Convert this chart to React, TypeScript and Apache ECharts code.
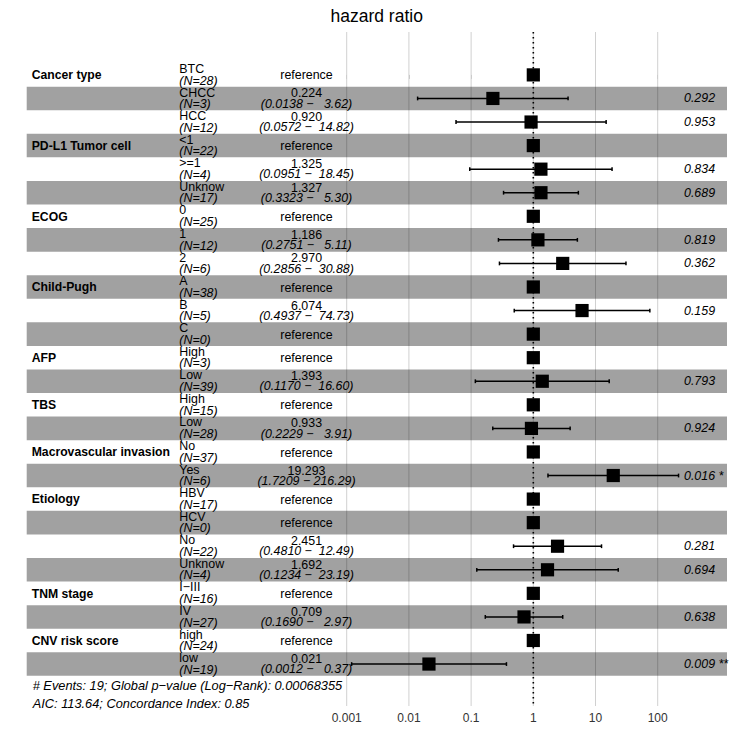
import React, { useEffect, useRef } from "react";
import * as echarts from "echarts";

// ---------------- data ----------------
const variables = [
  "Cancer type", "", "",
  "PD-L1 Tumor cell", "", "",
  "ECOG", "", "",
  "Child-Pugh", "", "",
  "AFP", "",
  "TBS", "",
  "Macrovascular invasion", "",
  "Etiology", "", "", "",
  "TNM stage", "",
  "CNV risk score", "",
];
const levels = [
  "BTC", "CHCC", "HCC",
  "<1", ">=1", "Unknow",
  "0", "1", "2",
  "A", "B", "C",
  "High", "Low",
  "High", "Low",
  "No", "Yes",
  "HBV", "HCV", "No", "Unknow",
  "I\u2212III", "IV",
  "high", "low",
];
const counts = [28, 3, 12, 22, 4, 17, 25, 12, 6, 38, 5, 0, 3, 39, 15, 28, 37, 6, 17, 0, 22, 4, 16, 27, 24, 19];
const hazardRatios: (number | null)[] = [
  null, 0.224, 0.92,
  null, 1.325, 1.327,
  null, 1.186, 2.97,
  null, 6.074, null,
  null, 1.393,
  null, 0.933,
  null, 19.293,
  null, null, 2.451, 1.692,
  null, 0.709,
  null, 0.021,
];
const ciLow: (number | null)[] = [
  null, 0.0138, 0.0572,
  null, 0.0951, 0.3323,
  null, 0.2751, 0.2856,
  null, 0.4937, null,
  null, 0.117,
  null, 0.2229,
  null, 1.7209,
  null, null, 0.481, 0.1234,
  null, 0.169,
  null, 0.0012,
];
const ciHigh: (number | null)[] = [
  null, 3.62, 14.82,
  null, 18.45, 5.3,
  null, 5.11, 30.88,
  null, 74.73, null,
  null, 16.6,
  null, 3.91,
  null, 216.29,
  null, null, 12.49, 23.19,
  null, 2.97,
  null, 0.37,
];
const pValues: (number | null)[] = [
  null, 0.292, 0.953,
  null, 0.834, 0.689,
  null, 0.819, 0.362,
  null, 0.159, null,
  null, 0.793,
  null, 0.924,
  null, 0.016,
  null, null, 0.281, 0.694,
  null, 0.638,
  null, 0.009,
];
const tickValues = [0.001, 0.01, 0.1, 1, 10, 100];
const tickLabels = ["0.001", "0.01", "0.1", "1", "10", "100"];
const footerLines = [
  "# Events: 19; Global p\u2212value (Log\u2212Rank): 0.00068355",
  "AIC: 113.64; Concordance Index: 0.85",
];
const titleText = "hazard ratio";

// ---------------- layout constants ----------------
const FONT = '"Liberation Sans", Arial, Helvetica, sans-serif';
const XMIN = -8.145;
const XMAX = 3.114;
const YMIN = -1.82;
const YMAX = 26.78;
const COL_VAR = (31.7 - 533.3) / 62.2;
const COL_LEVEL = (179.3 - 533.3) / 62.2;
const COL_HR = (306.5 - 533.3) / 62.2;
const COL_P = (684 - 533.3) / 62.2;
const FS = 12.4;

const NB = "\u00a0";
function padLeft(s: string, w: number) {
  let r = s;
  while (r.length < w) r = NB + r;
  return r;
}
function ciText(lo: number, hi: number) {
  return "(" + lo.toFixed(4) + " \u2212 " + padLeft(hi.toFixed(2), 6) + ")";
}
function pText(p: number) {
  const stars = p < 0.001 ? " ***" : p < 0.01 ? " **" : p < 0.05 ? " *" : "";
  return p.toFixed(3) + stars;
}

function txt(x: number, y: number, text: string, font: string, align: string) {
  return {
    type: "text",
    x,
    y,
    style: { text, fill: "#000", font, align, verticalAlign: "middle", lineHeight: 10 },
  };
}

export default function App() {
  const ref = useRef<HTMLDivElement>(null);

  useEffect(() => {
    if (!ref.current) return;
    const chart = echarts.init(ref.current, null, { renderer: "svg" });
    const rows = levels.map((_, i) => [0, i]);
    const bandRows = levels.map((_, i) => [0, i]).filter((d) => d[1] % 2 === 1);

    const option: any = {
      animation: false,
      backgroundColor: "#ffffff",
      grid: { left: 26.7, right: 23, top: 32, bottom: 44, containLabel: false },
      xAxis: {
        type: "value",
        min: XMIN,
        max: XMAX,
        axisLine: { show: false },
        splitLine: { show: false },
        axisTick: {
          show: true,
          customValues: tickValues.map((v) => Math.log10(v)),
          length: 4,
          lineStyle: { color: "#c4c4c4", width: 1 },
        },
        axisLabel: {
          customValues: tickValues.map((v) => Math.log10(v)),
          formatter: (v: number) => {
            let best = 0;
            tickValues.forEach((t, k) => {
              if (Math.abs(Math.log10(t) - v) < Math.abs(Math.log10(tickValues[best]) - v)) best = k;
            });
            return tickLabels[best];
          },
          color: "#333333",
          fontSize: 12,
          fontFamily: FONT,
          margin: 6,
        },
      },
      yAxis: { type: "value", inverse: true, min: YMIN, max: YMAX, show: false },
      graphic: [
        {
          type: "text",
          x: 376.7,
          y: 15.5,
          style: { text: titleText, fill: "#000", font: "17.5px " + FONT, align: "center", verticalAlign: "middle" },
        },
        ...footerLines.map((t, k) => ({
          type: "text",
          x: 32.7,
          y: 685 + k * 18,
          style: { text: t, fill: "#000", font: "italic 12.8px " + FONT, align: "left", verticalAlign: "middle" },
        })),
      ],
      series: [
        {
          type: "custom",
          name: "grid",
          z: 1,
          silent: true,
          data: tickValues.map((v) => [Math.log10(v), 0]),
          renderItem: (_p: any, api: any) => {
            const v = api.value(0);
            const a = api.coord([v, YMIN]);
            const b = api.coord([v, YMAX]);
            return {
              type: "line",
              shape: { x1: a[0], y1: a[1], x2: b[0], y2: b[1] },
              style: { stroke: "#d0d0d0", lineWidth: 1 },
            };
          },
        },
        {
          type: "custom",
          name: "bands",
          z: 2,
          silent: true,
          data: bandRows,
          renderItem: (_p: any, api: any) => {
            const i = api.value(1);
            const a = api.coord([XMIN, i - 0.5]);
            const b = api.coord([XMAX, i + 0.5]);
            return {
              type: "rect",
              shape: { x: a[0], y: a[1], width: b[0] - a[0], height: b[1] - a[1] },
              style: { fill: "rgba(0,0,0,0.37)" },
            };
          },
        },
        {
          type: "custom",
          name: "refline",
          z: 3,
          silent: true,
          data: [[0, 0]],
          renderItem: (_p: any, api: any) => {
            const a = api.coord([0, YMIN]);
            const b = api.coord([0, YMAX]);
            return {
              type: "line",
              shape: { x1: a[0], y1: a[1], x2: b[0], y2: b[1] },
              style: { stroke: "#000", lineWidth: 1.6, lineDash: [1.6, 3.4] },
            };
          },
        },
        {
          type: "custom",
          name: "forest",
          z: 4,
          silent: true,
          data: hazardRatios.map((hr, i) => [Math.log10(hr == null ? 1 : hr), i]),
          renderItem: (_p: any, api: any) => {
            const x = api.value(0);
            const i = api.value(1);
            const c = api.coord([x, i]);
            const children: any[] = [];
            const lo = ciLow[i];
            const hi = ciHigh[i];
            if (lo != null && hi != null) {
              const a = api.coord([Math.log10(lo), i]);
              const b = api.coord([Math.log10(hi), i]);
              const st = { stroke: "#000", lineWidth: 1.5 };
              children.push({ type: "line", shape: { x1: a[0], y1: a[1], x2: b[0], y2: b[1] }, style: st });
              children.push({ type: "line", shape: { x1: a[0], y1: a[1] - 1.9, x2: a[0], y2: a[1] + 1.9 }, style: st });
              children.push({ type: "line", shape: { x1: b[0], y1: b[1] - 1.9, x2: b[0], y2: b[1] + 1.9 }, style: st });
            }
            children.push({
              type: "rect",
              shape: { x: c[0] - 6.6, y: c[1] - 6.6, width: 13.2, height: 13.2 },
              style: { fill: "#000" },
            });
            return { type: "group", children };
          },
        },
        {
          type: "custom",
          name: "table",
          z: 5,
          silent: true,
          data: rows,
          renderItem: (_p: any, api: any) => {
            const i = api.value(1);
            const yv = api.coord([0, i])[1];
            const xVar = api.coord([COL_VAR, i])[0];
            const xLev = api.coord([COL_LEVEL, i])[0];
            const xHr = api.coord([COL_HR, i])[0];
            const xP = api.coord([COL_P, i])[0];
            const children: any[] = [];
            if (variables[i]) children.push(txt(xVar, yv + 0.3, variables[i], "bold 12.2px " + FONT, "left"));
            children.push(txt(xLev, yv - 5.9, levels[i], FS + "px " + FONT, "left"));
            children.push(txt(xLev, yv + 5.7, "(N=" + counts[i] + ")", "italic " + FS + "px " + FONT, "left"));
            const hr = hazardRatios[i];
            const lo = ciLow[i];
            const hi = ciHigh[i];
            if (hr == null || lo == null || hi == null) {
              children.push(txt(xHr, yv + 0.6, "reference", FS + "px " + FONT, "center"));
            } else {
              children.push(txt(xHr, yv - 5.0, hr.toFixed(3), FS + "px " + FONT, "center"));
              children.push(txt(xHr, yv + 5.2, ciText(lo, hi), "italic " + FS + "px " + FONT, "center"));
            }
            const p = pValues[i];
            if (p != null) children.push(txt(xP, yv, pText(p), "italic " + FS + "px " + FONT, "left"));
            return { type: "group", children };
          },
        },
      ],
    };
    chart.setOption(option);
    return () => chart.dispose();
  }, []);

  return (
    <div
      ref={ref}
      style={{ position: "fixed", left: 0, top: 0, width: 750, height: 750, background: "#fff" }}
    />
  );
}
